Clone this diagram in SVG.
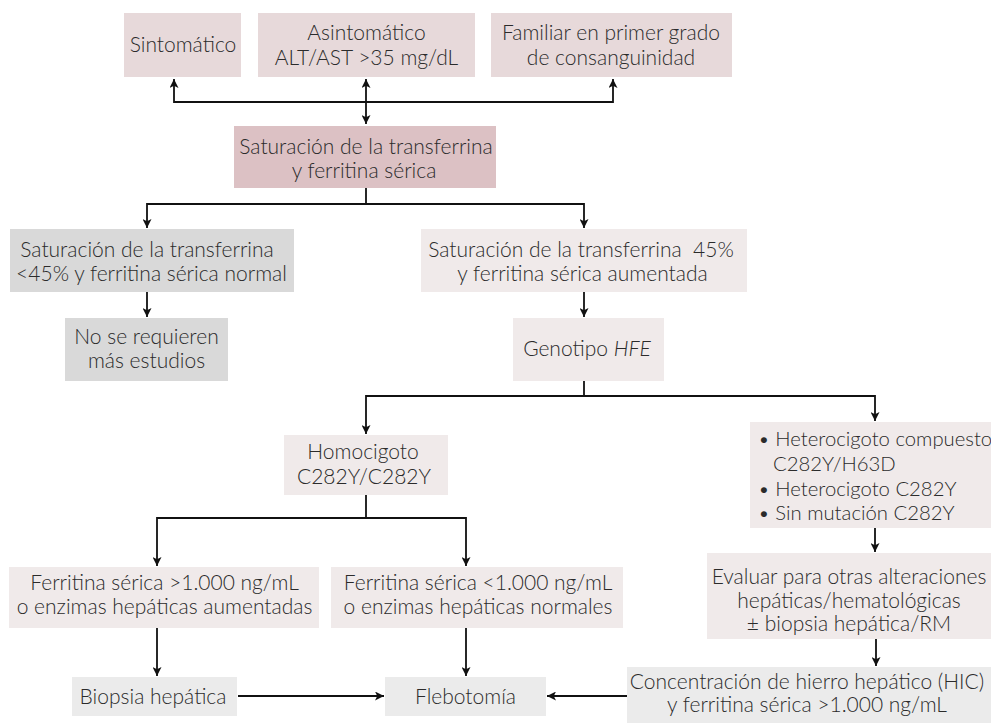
<svg xmlns="http://www.w3.org/2000/svg" width="991" height="723" viewBox="0 0 991 723">
<style>
.t{font-family:Lato,"Open Sans","Liberation Sans",sans-serif;font-weight:300;font-size:21px;fill:#2b2b2b;text-anchor:middle}
.l{text-anchor:start;font-size:20.3px}
.pk{fill:#e7d9da}
.dk{fill:#dcc1c4}
.gr{fill:#d9d9d9}
.lt{fill:#f0eaea}
.ng{fill:#ebebeb}
.c{fill:none;stroke:#111;stroke-width:1.8}
</style>
<defs>
<marker id="ah" viewBox="0 0 10 10" refX="10" refY="5" markerWidth="9" markerHeight="9" markerUnits="userSpaceOnUse" orient="auto-start-reverse">
<path d="M0,0 L10,5 L0,10 L2.5,5 z" fill="#111"/>
</marker>
</defs>
<rect width="991" height="723" fill="#fff"/>
<g id="connectors">
<path class="c" d="M366,79 V124" marker-start="url(#ah)" marker-end="url(#ah)"/>
<path class="c" d="M174,79 V102 H613 V79" marker-start="url(#ah)" marker-end="url(#ah)"/>
<path class="c" d="M366,188 V204"/>
<path class="c" d="M366,204 H147 V228" marker-end="url(#ah)"/>
<path class="c" d="M366,204 H584 V228" marker-end="url(#ah)"/>
<path class="c" d="M147,292 V317" marker-end="url(#ah)"/>
<path class="c" d="M584,292 V317" marker-end="url(#ah)"/>
<path class="c" d="M584,381 V396"/>
<path class="c" d="M584,396 H366 V434" marker-end="url(#ah)"/>
<path class="c" d="M584,396 H875 V421" marker-end="url(#ah)"/>
<path class="c" d="M366,495 V518"/>
<path class="c" d="M366,518 H157 V566" marker-end="url(#ah)"/>
<path class="c" d="M366,518 H466 V566" marker-end="url(#ah)"/>
<path class="c" d="M875,528 V552" marker-end="url(#ah)"/>
<path class="c" d="M876,639 V666" marker-end="url(#ah)"/>
<path class="c" d="M157,628 V676" marker-end="url(#ah)"/>
<path class="c" d="M466,628 V676" marker-end="url(#ah)"/>
<path class="c" d="M238,696 H384" marker-end="url(#ah)"/>
<path class="c" d="M627,696 H547" marker-end="url(#ah)"/>
</g>
<g id="n-sintomatico">
<rect class="pk" x="124" y="13" width="117" height="64"/>
<text class="t" x="183" y="52">Sintomático</text>
</g>
<g id="n-asintomatico">
<rect class="pk" x="258" y="13" width="217" height="64"/>
<text class="t" x="366.5" y="40">Asintomático</text>
<text class="t" x="366.5" y="65">ALT/AST &gt;35 mg/dL</text>
</g>
<g id="n-familiar">
<rect class="pk" x="491" y="13" width="241" height="64"/>
<text class="t" x="611" y="40">Familiar en primer grado</text>
<text class="t" x="611" y="65">de consanguinidad</text>
</g>
<g id="n-saturacion">
<rect class="dk" x="234" y="126" width="262" height="62"/>
<text class="t" x="366" y="154">Saturación de la transferrina</text>
<text class="t" x="364" y="178">y ferritina sérica</text>
</g>
<g id="n-normal">
<rect class="gr" x="10" y="229" width="284" height="63"/>
<text class="t" x="147" y="257">Saturación de la transferrina</text>
<text class="t" x="151.5" y="281">&lt;45% y ferritina sérica normal</text>
</g>
<g id="n-aumentada">
<rect class="lt" x="421" y="229" width="326" height="63"/>
<text class="t" x="581" y="257">Saturación de la transferrina&#160; 45%</text>
<text class="t" x="582.5" y="281">y ferritina sérica aumentada</text>
</g>
<g id="n-noestudios">
<rect class="gr" x="65" y="318" width="163" height="63"/>
<text class="t" x="146.5" y="344">No se requieren</text>
<text class="t" x="146.5" y="368">más estudios</text>
</g>
<g id="n-genotipo">
<rect class="lt" x="513" y="318" width="151" height="63"/>
<text class="t" x="587" y="356">Genotipo <tspan font-style="italic">HFE</tspan></text>
</g>
<g id="n-homocigoto">
<rect class="lt" x="284" y="435" width="164" height="60"/>
<text class="t" x="363" y="459">Homocigoto</text>
<text class="t" x="364" y="484">C282Y/C282Y</text>
</g>
<g id="n-heterocigoto">
<rect class="lt" x="750" y="422" width="241" height="106"/>
<text class="t l" x="758" y="446">• Heterocigoto compuesto</text>
<text class="t l" x="773" y="471">C282Y/H63D</text>
<text class="t l" x="758" y="496">• Heterocigoto C282Y</text>
<text class="t l" x="758" y="520">• Sin mutación C282Y</text>
</g>
<g id="n-ferr-alta">
<rect class="lt" x="9" y="567" width="310" height="61"/>
<text class="t" x="164.5" y="590">Ferritina sérica &gt;1.000 ng/mL</text>
<text class="t" x="164.5" y="614">o enzimas hepáticas aumentadas</text>
</g>
<g id="n-ferr-baja">
<rect class="lt" x="331" y="567" width="292" height="61"/>
<text class="t" x="478" y="590">Ferritina sérica &lt;1.000 ng/mL</text>
<text class="t" x="478" y="614">o enzimas hepáticas normales</text>
</g>
<g id="n-evaluar">
<rect class="lt" x="707" y="553" width="284" height="86"/>
<text class="t" x="849" y="584">Evaluar para otras alteraciones</text>
<text class="t" x="849" y="608">hepáticas/hematológicas</text>
<text class="t" x="849" y="631">± biopsia hepática/RM</text>
</g>
<g id="n-biopsia">
<rect class="ng" x="72" y="677" width="165" height="39"/>
<text class="t" x="153" y="704">Biopsia hepática</text>
</g>
<g id="n-flebotomia">
<rect class="ng" x="385" y="677" width="161" height="39"/>
<text class="t" x="465.5" y="704">Flebotomía</text>
</g>
<g id="n-hic">
<rect class="ng" x="627" y="667" width="364" height="56"/>
<text class="t" x="807" y="689">Concentración de hierro hepático (HIC)</text>
<text class="t" x="807" y="712">y ferritina sérica &gt;1.000 ng/mL</text>
</g>
</svg>
